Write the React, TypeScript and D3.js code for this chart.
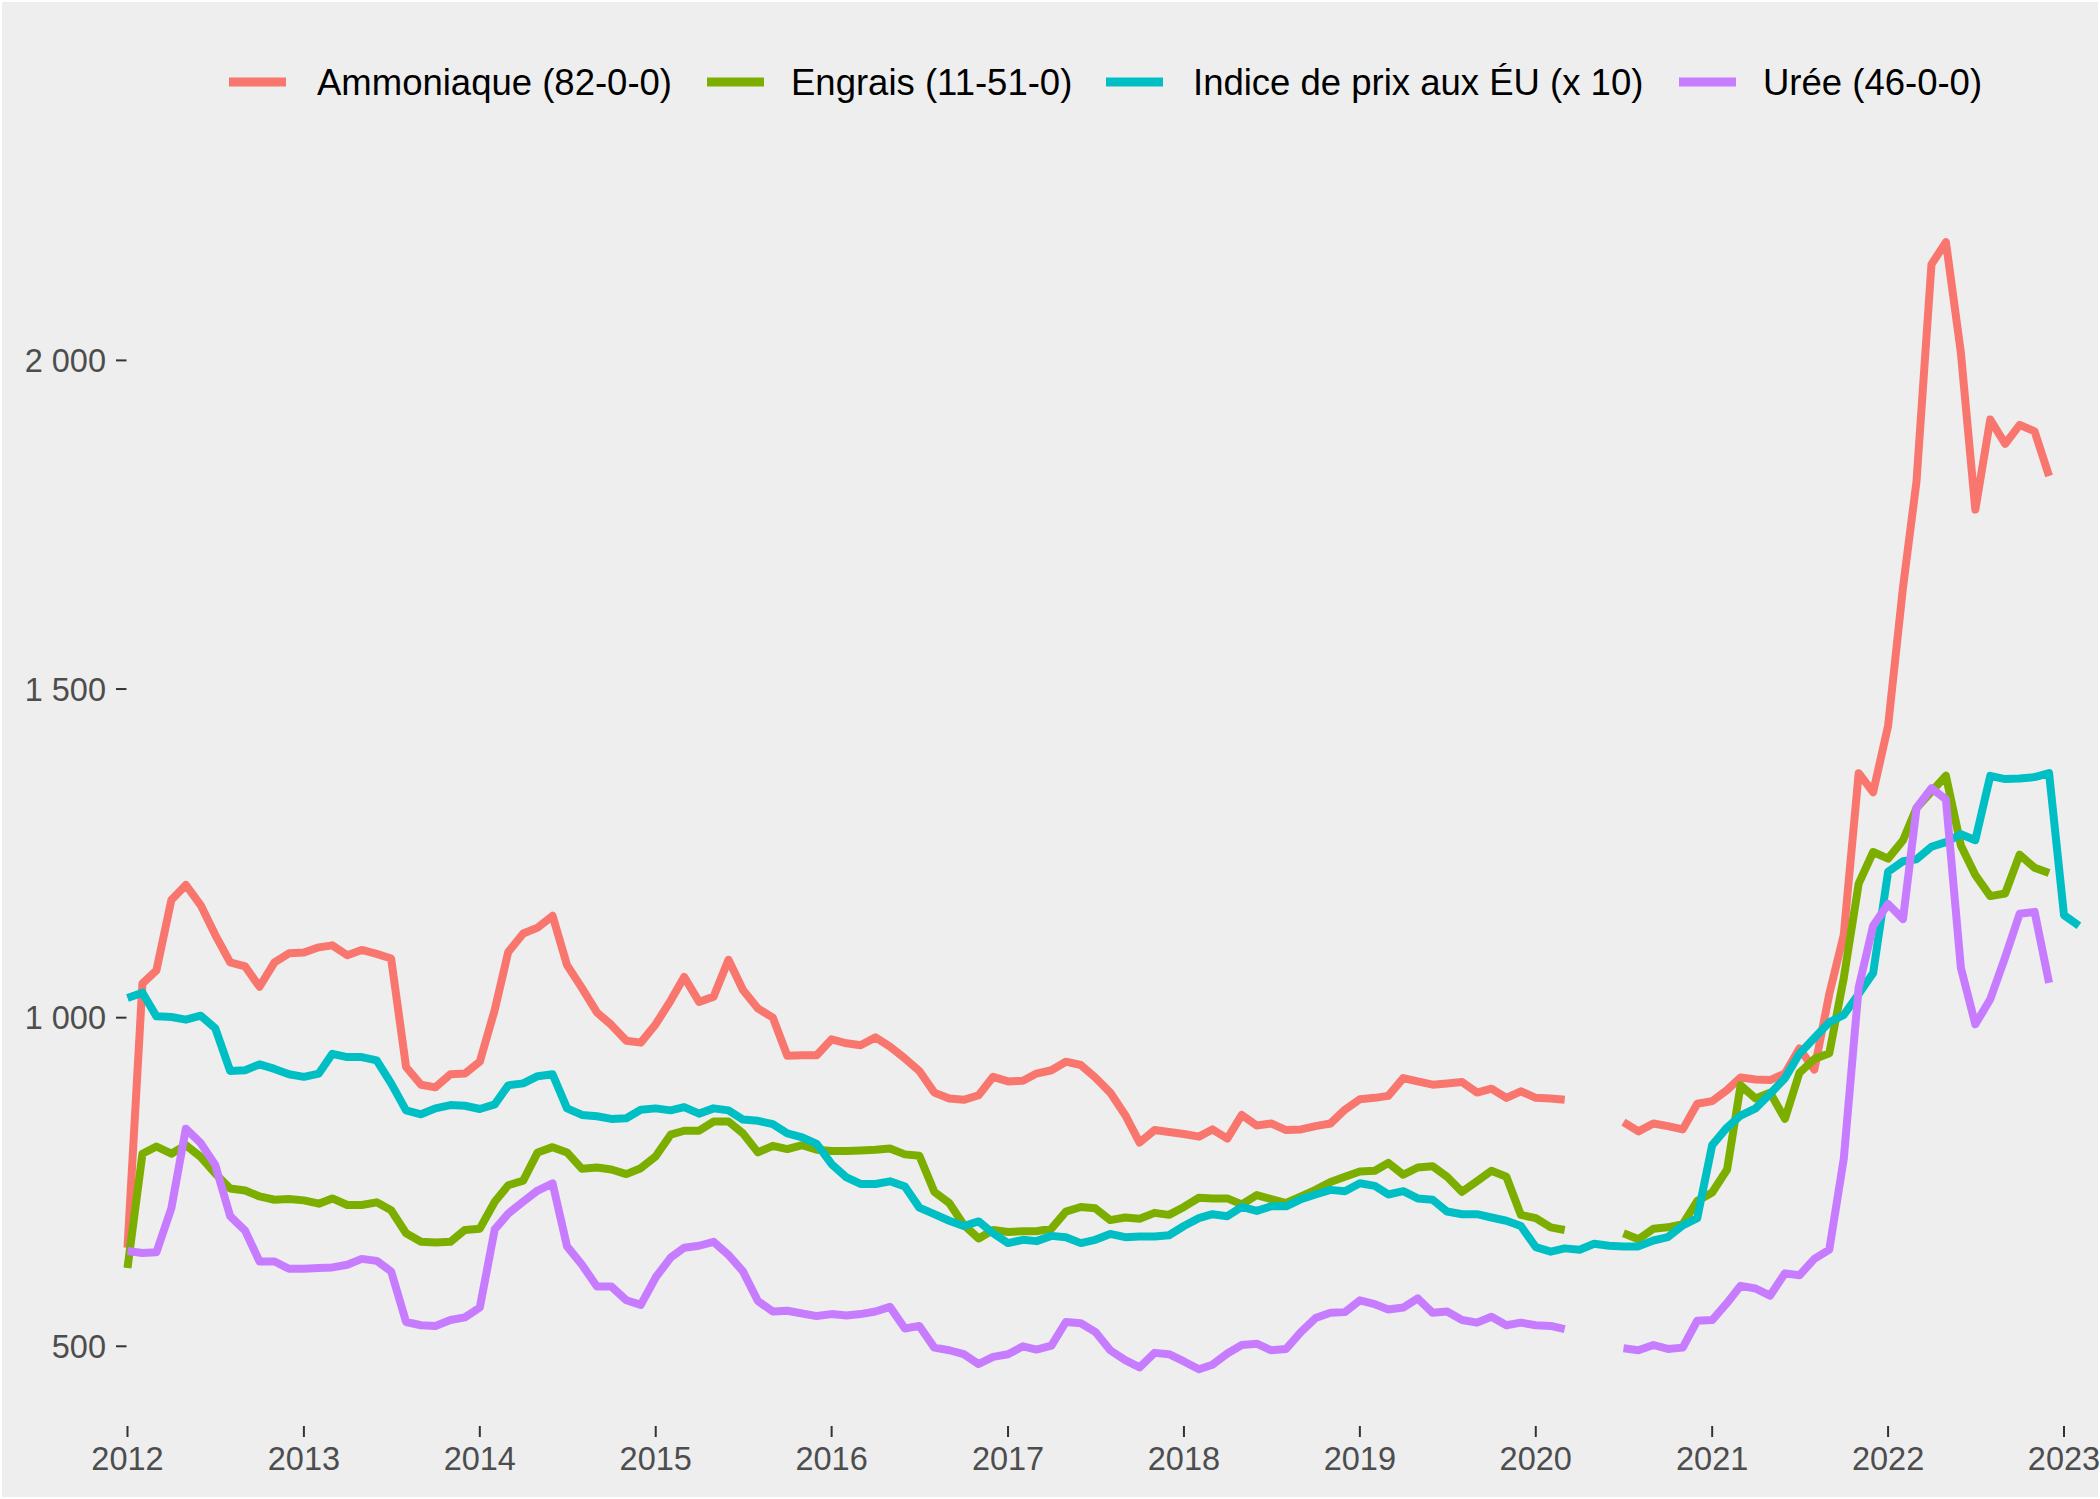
import * as React from 'react';
import * as d3 from 'd3';

// monthly values, Jan 2012 onward (null = no data)
const ammoniaque = [
  650, 1052, 1072, 1179, 1202, 1171, 1126, 1084, 1078, 1047, 1084, 1098,
  1099, 1107, 1110, 1095, 1103, 1097, 1090, 925, 898, 894, 914, 915,
  933, 1012, 1100, 1128, 1137, 1155, 1080, 1045, 1008, 989, 965, 962,
  990, 1026, 1062, 1024, 1032, 1088, 1042, 1014, 1000, 942, 943, 943,
  967, 961, 958, 970, 956, 938, 919, 886, 877, 875, 882, 910,
  903, 904, 915, 920, 933, 928, 909, 886, 852, 810, 829, 826,
  823, 819, 830, 816, 852, 836, 839, 829, 830, 835, 839, 860,
  876, 878, 881, 908, 903, 898, 900, 902, 886, 892, 878, 888,
  878, 877, 875, null, null, null, 841, 827, 839, 835, 830, 869,
  873, 890, 909, 906, 905, 915, 953, 921, 1036, 1126, 1372, 1343,
  1444, 1655, 1816, 2146, 2180, 2012, 1773, 1910, 1873, 1902, 1892, 1824,
  null, null
];

const engrais = [
  619, 793, 804, 793, 806, 788, 763, 740, 737, 728, 723, 724,
  722, 717, 725, 715, 715, 719, 707, 672, 659, 658, 659, 677,
  679, 720, 745, 752, 795, 803, 795, 770, 772, 769, 762, 771,
  789, 822, 828, 828, 842, 842, 824, 795, 805, 800, 806, 799,
  797, 797, 798, 799, 801, 792, 790, 735, 718, 685, 664, 677,
  674, 675, 675, 679, 705, 712, 710, 692, 696, 694, 703, 700,
  712, 726, 725, 725, 716, 730, 724, 718, 728, 738, 750, 758,
  766, 767, 779, 761, 772, 774, 758, 735, 751, 767, 758, 700,
  695, 681, 677, null, null, null, 672, 663, 679, 681, 686, 721,
  734, 769, 897, 877, 886, 846, 916, 937, 946, 1060, 1204, 1252,
  1242, 1270, 1319, 1344, 1368, 1262, 1217, 1185, 1189, 1248, 1228, 1220,
  null, null
];

const indicePrix = [
  1030, 1038, 1002, 1001, 997, 1003, 984, 919, 920, 929, 922, 914,
  910, 915, 945, 940, 940, 935, 900, 859, 853, 862, 867, 866,
  861, 868, 897, 900, 911, 914, 862, 852, 850, 846, 847, 860,
  862, 859, 864, 854, 862, 859, 845, 843, 838, 824, 818, 808,
  777, 757, 747, 747, 751, 743, 711, 701, 691, 683, 690, 672,
  657, 662, 660, 668, 666, 657, 662, 671, 666, 667, 667, 669,
  683, 695, 701, 698, 712, 706, 713, 713, 724, 731, 738, 736,
  748, 744, 731, 736, 725, 723, 705, 701, 701, 696, 691, 683,
  651, 644, 649, 647, 656, 653, 652, 652, 661, 666, 684, 695,
  806, 833, 851, 862, 884, 908, 945, 969, 993, 1004, 1036, 1068,
  1222, 1238, 1241, 1260, 1267, 1279, 1270, 1368, 1363, 1364, 1366, 1372,
  1156, 1140
];

const uree = [
  645, 642, 643, 710, 831, 809, 776, 698, 676, 629, 629, 618,
  618, 619, 620, 624, 633, 630, 614, 537, 532, 531, 540, 544,
  559, 678, 702, 720, 737, 748, 652, 624, 591, 591, 570, 563,
  605, 635, 650, 653, 659, 639, 614, 569, 553, 554, 550, 546,
  549, 547, 549, 553, 560, 527, 531, 498, 494, 488, 473, 484,
  488, 500, 495, 501, 537, 535, 522, 494, 479, 468, 490, 488,
  477, 465, 472, 489, 502, 504, 494, 496, 522, 543, 551, 552,
  570, 564, 556, 559, 573, 551, 553, 540, 536, 545, 532, 536,
  532, 531, 526, null, null, null, 497, 494, 502, 496, 498, 539,
  540, 566, 592, 588, 577, 611, 608, 633, 647, 785, 1046, 1140,
  1173, 1150, 1319, 1349, 1332, 1076, 990, 1028, 1092, 1158, 1161, 1053,
  null, null
];

const seriesNames = ['Ammoniaque (82-0-0)', 'Engrais (11-51-0)', 'Indice de prix aux ÉU (x 10)', 'Urée (46-0-0)'];
const seriesColors = ['#F8766D', '#7CAE00', '#00BFC4', '#C77CFF'];
const seriesValues = [ammoniaque, engrais, indicePrix, uree];

const yTicks = [500, 1000, 1500, 2000];
const xTickYears = [2012, 2013, 2014, 2015, 2016, 2017, 2018, 2019, 2020, 2021, 2022, 2023];

const W = 2100;
const H = 1499;
const font = '"Liberation Sans", Arial, Helvetica, sans-serif';

export default function App() {
  const months = d3.timeMonth.range(new Date(2012, 0, 1), new Date(2023, 2, 1));

  const x = d3.scaleTime()
    .domain([new Date(2012, 0, 1), new Date(2023, 0, 1)])
    .range([127.5, 2064]);

  const y = d3.scaleLinear()
    .domain([500, 2000])
    .range([1346.3, 360.4]);

  const fr = d3.formatLocale({ decimal: ',', thousands: '\u00a0', grouping: [3], currency: ['', ''] });
  const fmt = fr.format(',d');

  const line = d3.line<number | null>()
    .defined(d => d != null)
    .x((d, i) => x(months[i]))
    .y(d => y(d as number));

  // legend x positions (key start, text start)
  const legendKeys = [229, 707, 1106, 1679];
  const legendText = [317, 791, 1193, 1763];

  return (
    <svg width={W} height={H} style={{ position: 'absolute', left: 0, top: 0 }} fontFamily={font}>
      <rect x={1} y={1} width={W - 2} height={H - 2} fill="#EEEEEE" stroke="#FFFFFF" strokeWidth={2} />

      {/* legend */}
      {seriesNames.map((name, i) => (
        <g key={name}>
          <line x1={legendKeys[i]} x2={legendKeys[i] + 57} y1={82} y2={82}
            stroke={seriesColors[i]} strokeWidth={9} />
          <text x={legendText[i]} y={95} fontSize={36.5} fill="#000">{name}</text>
        </g>
      ))}

      {/* y axis */}
      {yTicks.map(t => (
        <g key={t}>
          <line x1={116} x2={126.5} y1={y(t)} y2={y(t)} stroke="#333333" strokeWidth={2} />
          <text x={106} y={y(t)} dy="0.36em" textAnchor="end" fontSize={32.5} fill="#4D4D4D">{fmt(t)}</text>
        </g>
      ))}

      {/* x axis */}
      {xTickYears.map(yr => {
        const px = x(new Date(yr, 0, 1));
        return (
          <g key={yr}>
            <line x1={px} x2={px} y1={1426} y2={1437} stroke="#333333" strokeWidth={2} />
            <text x={px} y={1470} textAnchor="middle" fontSize={32.5} fill="#4D4D4D">{yr}</text>
          </g>
        );
      })}

      {/* series */}
      {seriesValues.map((vals, i) => (
        <path key={i} d={line(vals) || ''} fill="none" stroke={seriesColors[i]}
          strokeWidth={8} strokeLinejoin="round" strokeLinecap="butt" />
      ))}
    </svg>
  );
}
